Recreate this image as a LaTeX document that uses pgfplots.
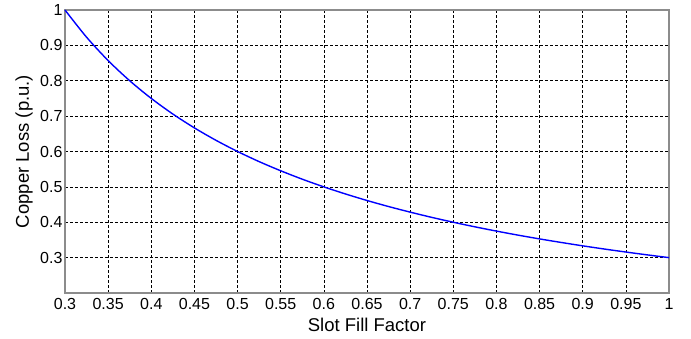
\documentclass[border=0pt]{standalone}
\usepackage{fontspec}
\setmainfont{Liberation Sans}
\usepackage{pgfplots}
\pgfplotsset{compat=1.18}
\begin{document}
\begin{tikzpicture}
\path[use as bounding box] (-65pt,-46pt) rectangle (626pt,293pt);
\begin{axis}[
  at={(0,0)}, anchor=south west,
  scale only axis, width=604pt, height=283pt,
  xmin=0.3, xmax=1, ymin=0.2, ymax=1,
  xtick={0.3,0.35,...,1.01},
  ytick={0.3,0.4,...,1.01},
  xticklabels={0.3,0.35,0.4,0.45,0.5,0.55,0.6,0.65,0.7,0.75,0.8,0.85,0.9,0.95,1},
  yticklabels={0.3,0.4,0.5,0.6,0.7,0.8,0.9,1},
  /pgf/number format/assume math mode=true,
  ticklabel style={font=\fontsize{16}{18}\selectfont},
  label style={font=\fontsize{18.5}{21}\selectfont},
  xlabel={Slot Fill Factor},
  ylabel={Copper Loss (p.u.)},
  xlabel style={at={(axis description cs:0.5,0)}, anchor=base, yshift=-39pt},
  ylabel style={at={(axis description cs:0,0.5)}, anchor=center, yshift=41pt},
  yticklabel style={xshift=1pt},
  xticklabel style={yshift=-2pt},
  major tick length=0pt,
  grid=major,
  major grid style={black, line width=0.6pt, dash pattern=on 3pt off 2pt},
  axis line style={draw=gray!90, line width=1.3pt},
  clip=false,
]
\addplot[blue, line width=1.4pt, smooth] coordinates {
(0.300,1.0000) (0.325,0.9231) (0.350,0.8571) (0.375,0.8000) (0.400,0.7500)
(0.425,0.7059) (0.450,0.6667) (0.475,0.6316) (0.500,0.6000) (0.525,0.5714)
(0.550,0.5455) (0.575,0.5217) (0.600,0.5000) (0.625,0.4800) (0.650,0.4615)
(0.675,0.4444) (0.700,0.4286) (0.725,0.4138) (0.750,0.4000) (0.775,0.3871)
(0.800,0.3750) (0.825,0.3636) (0.850,0.3529) (0.875,0.3429) (0.900,0.3333)
(0.925,0.3243) (0.950,0.3158) (0.975,0.3077) (1.000,0.3000)
};
\end{axis}
\end{tikzpicture}
\end{document}
